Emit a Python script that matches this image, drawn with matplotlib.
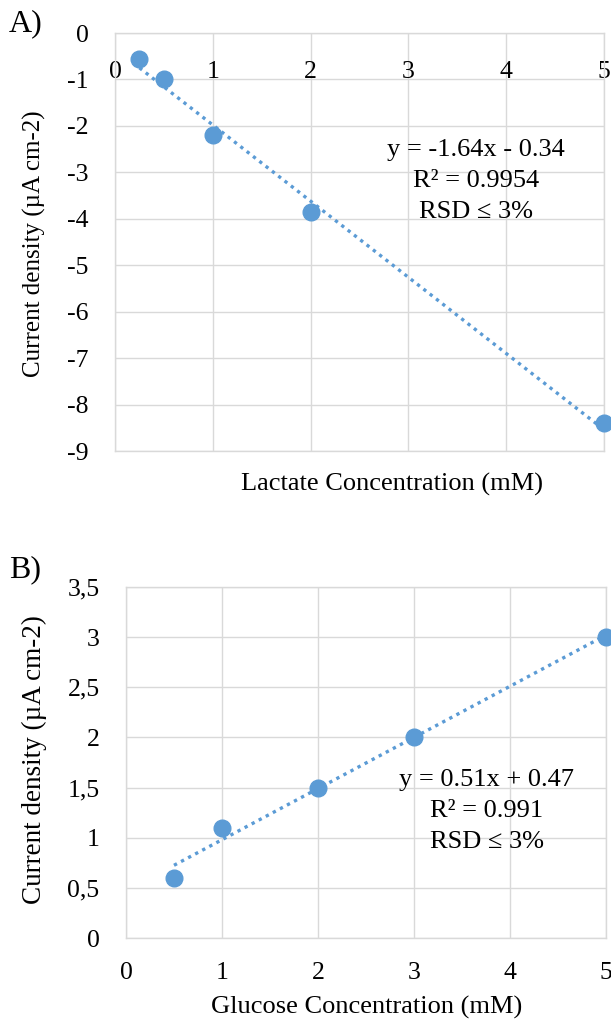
import matplotlib
matplotlib.use("Agg")
import matplotlib.pyplot as plt
import numpy as np

plt.rcParams['font.family'] = ['Liberation Serif', 'DejaVu Serif']

# ---- data ----
lac_x = [0.25, 0.5, 1, 2, 5]
lac_y = [-0.55, -1.0, -2.2, -3.85, -8.4]
lac_slope, lac_icpt = -1.64, -0.34
lac_eq = ["y = -1.64x - 0.34", "R² = 0.9954", "RSD ≤ 3%"]

glu_x = [0.5, 1, 2, 3, 5]
glu_y = [0.6, 1.1, 1.5, 2.0, 3.0]
glu_slope, glu_icpt = 0.51, 0.47
glu_eq = ["y = 0.51x + 0.47", "R² = 0.991", "RSD ≤ 3%"]

lac_yticks = [0, -1, -2, -3, -4, -5, -6, -7, -8, -9]
lac_xticks = [0, 1, 2, 3, 4, 5]
glu_yticks = [0, 0.5, 1, 1.5, 2, 2.5, 3, 3.5]
glu_ytlabels = ["0", "0,5", "1", "1,5", "2", "2,5", "3", "3,5"]
glu_xticks = [0, 1, 2, 3, 4, 5]

blue = '#5b9bd5'
grid = '#d9d9d9'
fs_tick = 18.5
fs_lab = 19
fs_eq = 19

W, H = 611, 1022
fig = plt.figure(figsize=(W/100, H/100), dpi=100)

def style(ax):
    for s in ax.spines.values():
        s.set_color(grid)
        s.set_linewidth(1)
    ax.grid(True, color=grid, linewidth=1)
    ax.set_axisbelow(True)
    ax.tick_params(length=0, labelsize=fs_tick)

# ---- Panel A ----
axA = fig.add_axes([115/W, 1-451/H, (604-115)/W, (451-33)/H])
style(axA)
axA.set_xlim(0, 5)
axA.set_ylim(-9, 0)
axA.set_yticks(lac_yticks)
axA.set_yticklabels([str(v) for v in lac_yticks])
axA.set_xticks(lac_xticks)
axA.set_xticklabels([str(v) for v in lac_xticks])
axA.tick_params(axis='x', labeltop=True, labelbottom=False, pad=-36)
axA.tick_params(axis='y', pad=19)
tx = np.array([lac_x[0], lac_x[-1]])
axA.plot(tx, lac_slope*tx + lac_icpt, linestyle=(0, (1, 1.4)), color=blue, linewidth=2.4, zorder=2)
axA.plot(lac_x, lac_y, 'o', color=blue, markersize=12, zorder=3, clip_on=False)
for i, t in enumerate(lac_eq):
    fig.text(476/W, 1-(150+31*i)/H, t, ha='center', va='center', fontsize=fs_eq)
fig.text(392/W, 1-484/H, "Lactate Concentration (mM)", ha='center', va='center', fontsize=fs_lab)
fig.text(34/W, 1-244/H, "Current density (µA cm-2)", ha='center', va='center', rotation=90, fontsize=18)
fig.text(9/W, 1-24/H, "A)", ha='left', va='center', fontsize=23)

# ---- Panel B ----
axB = fig.add_axes([126/W, 1-938/H, (606-126)/W, (938-587)/H])
style(axB)
axB.set_xlim(0, 5)
axB.set_ylim(0, 3.5)
axB.set_yticks(glu_yticks)
axB.set_yticklabels(glu_ytlabels)
axB.set_xticks(glu_xticks)
axB.set_xticklabels([str(v) for v in glu_xticks])
axB.tick_params(axis='x', pad=17)
axB.tick_params(axis='y', pad=19)
tx = np.array([glu_x[0], glu_x[-1]])
axB.plot(tx, glu_slope*tx + glu_icpt, linestyle=(0, (1, 1.4)), color=blue, linewidth=2.4, zorder=2)
axB.plot(glu_x, glu_y, 'o', color=blue, markersize=12, zorder=3, clip_on=False)
for i, t in enumerate(glu_eq):
    fig.text(487/W, 1-(780+31*i)/H, t, ha='center', va='center', fontsize=fs_eq)
fig.text(367/W, 1-1007/H, "Glucose Concentration (mM)", ha='center', va='center', fontsize=fs_lab)
fig.text(34/W, 1-760/H, "Current density (µA cm-2)", ha='center', va='center', rotation=90, fontsize=19.5)
fig.text(9/W, 1-570/H, "B)", ha='left', va='center', fontsize=23)

fig.savefig("out.png", dpi=100, facecolor='white')
